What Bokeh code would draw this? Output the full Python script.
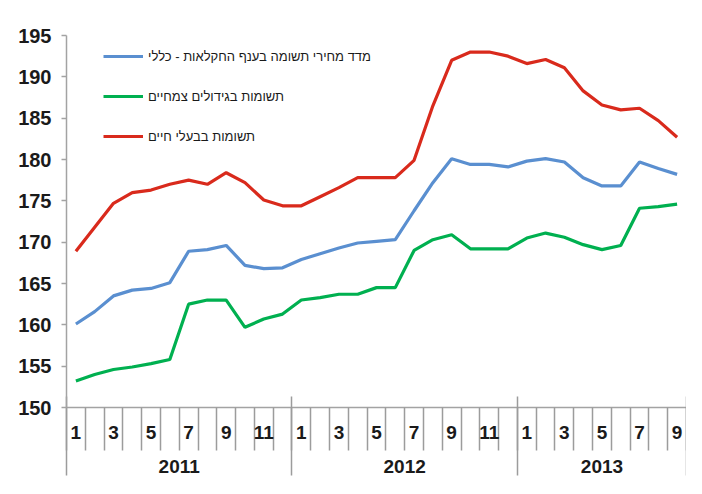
from bokeh.plotting import figure
from bokeh.models import FixedTicker, LinearAxis, Legend, LegendItem, Range1d
from bokeh.embed import file_html
from bokeh.resources import INLINE

# ---- data ----
months = list(range(1, 13)) + list(range(1, 13)) + list(range(1, 10))
years = ["2011", "2012", "2013"]
year_lengths = [12, 12, 9]

general = [160.1, 161.6, 163.5, 164.2, 164.4, 165.1, 168.9, 169.1, 169.6, 167.2, 166.8, 166.9,
           167.9, 168.6, 169.3, 169.9, 170.1, 170.3, 173.8, 177.2, 180.1, 179.4, 179.4, 179.1,
           179.8, 180.1, 179.7, 177.8, 176.8, 176.8, 179.7, 178.9, 178.2]
plants = [153.2, 154.0, 154.6, 154.9, 155.3, 155.8, 162.5, 163.0, 163.0, 159.7, 160.7, 161.3,
          163.0, 163.3, 163.7, 163.7, 164.5, 164.5, 169.0, 170.3, 170.9, 169.2, 169.2, 169.2,
          170.5, 171.1, 170.6, 169.7, 169.1, 169.6, 174.1, 174.3, 174.6]
animals = [168.9, 171.8, 174.7, 176.0, 176.3, 177.0, 177.5, 177.0, 178.4, 177.2, 175.1, 174.4,
           174.4, 175.5, 176.6, 177.8, 177.8, 177.8, 179.9, 186.5, 192.0, 193.0, 193.0, 192.5,
           191.6, 192.1, 191.1, 188.3, 186.6, 186.0, 186.2, 184.7, 182.7]

labels = ["מדד מחירי תשומה בענף החקלאות - כללי",
          "תשומות בגידולים צמחיים",
          "תשומות בבעלי חיים"]
colors = ["#5A8FD0", "#00B050", "#D92A1C"]
y_ticks = [150, 155, 160, 165, 170, 175, 180, 185, 190, 195]

# ---- derived positions ----
n = len(months)
x = list(range(n))
month_ticks = [i for i in x if months[i] % 2 == 1]
month_overrides = {i: str(months[i]) for i in month_ticks}
boundaries = [i - 0.5 for i in range(n + 1)]
year_edges = [-0.5]
for L in year_lengths:
    year_edges.append(year_edges[-1] + L)
year_centers = [(year_edges[k] + year_edges[k + 1]) / 2 for k in range(len(years))]
year_overrides = {c: y for c, y in zip(year_centers, years)}

GRID = "#A3A3A3"
TICK = "#9C9C9C"
FONT = "Liberation Sans"
TXT = "#1a1a1a"

p = figure(width=686, height=478, output_backend="svg", toolbar_location=None,
           x_range=Range1d(-0.5, n - 0.5), y_range=Range1d(150, 195),
           x_axis_type=None, y_axis_type=None,
           min_border_left=66, min_border_top=35, min_border_right=0, min_border_bottom=71)
p.outline_line_color = None
p.background_fill_color = "white"
p.border_fill_color = "white"

# y axis
yax = LinearAxis(ticker=FixedTicker(ticks=y_ticks, minor_ticks=[]))
yax.axis_line_color = GRID
yax.axis_line_width = 1.5
yax.major_tick_line_color = GRID
yax.major_tick_line_width = 1.5
yax.major_tick_out = 5
yax.major_tick_in = 0
yax.major_label_standoff = 10
yax.major_label_text_font = FONT
yax.major_label_text_font_style = "bold"
yax.major_label_text_font_size = "20px"
yax.major_label_text_color = TXT
p.add_layout(yax, "left")

# month axis
xax = LinearAxis(ticker=FixedTicker(ticks=month_ticks, minor_ticks=boundaries))
xax.major_label_overrides = month_overrides
xax.background_fill_color = "white"
xax.axis_line_color = GRID
xax.axis_line_width = 1.5
xax.major_tick_line_color = None
xax.major_tick_out = 0
xax.major_tick_in = 0
xax.minor_tick_line_color = TICK
xax.minor_tick_line_width = 1.5
xax.minor_tick_out = 43
xax.minor_tick_in = 0
xax.major_label_standoff = -25
xax.major_label_text_font = FONT
xax.major_label_text_font_style = "bold"
xax.major_label_text_font_size = "19px"
xax.major_label_text_color = TXT
p.add_layout(xax, "below")

# year axis
yrax = LinearAxis(ticker=FixedTicker(ticks=year_centers, minor_ticks=year_edges))
yrax.major_label_overrides = year_overrides
yrax.axis_line_color = None
yrax.major_tick_line_color = None
yrax.major_tick_out = 0
yrax.major_tick_in = 0
yrax.minor_tick_line_color = TICK
yrax.minor_tick_line_width = 1.5
yrax.minor_tick_in = 45
yrax.minor_tick_out = 34
yrax.major_label_standoff = -16
yrax.major_label_text_font = FONT
yrax.major_label_text_font_style = "bold"
yrax.major_label_text_font_size = "19px"
yrax.major_label_text_color = TXT
p.add_layout(yrax, "below")

# grid
p.ygrid.ticker = FixedTicker(ticks=y_ticks)
p.ygrid.grid_line_color = GRID
p.ygrid.grid_line_width = 1.6
p.xgrid.grid_line_color = None

renderers = []
for series, c in zip([general, plants, animals], colors):
    r = p.line(x, series, line_color=c, line_width=3.2)
    renderers.append(r)

legend = Legend(items=[LegendItem(label=l, renderers=[r]) for l, r in zip(labels, renderers)],
                location=(37, 261))
legend.label_text_font = FONT
legend.label_text_font_size = "13px"
legend.label_text_color = TXT
legend.glyph_width = 40
legend.glyph_height = 20
legend.label_height = 20
legend.spacing = 20
legend.padding = 10
legend.margin = 0
legend.label_standoff = 5
legend.border_line_color = None
legend.background_fill_color = "white"
legend.background_fill_alpha = 1.0
p.add_layout(legend)

open("out.html", "w").write(file_html(p, INLINE))
